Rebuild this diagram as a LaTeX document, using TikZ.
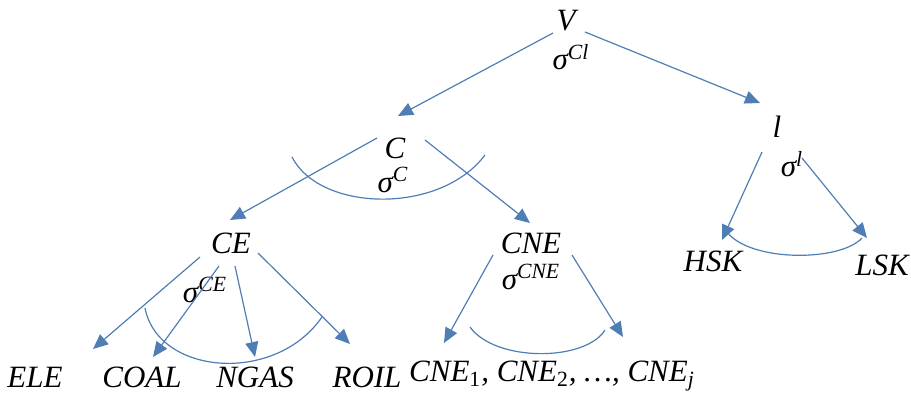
\documentclass[tikz,border=0pt]{standalone}
\usepackage{fontspec}
\setmainfont{Liberation Serif}
\usepackage{tikz}
\usetikzlibrary{arrows.meta}
\definecolor{treeblue}{RGB}{79,126,180}
\tikzset{
lbl/.style={
inner sep=0pt,
font=\fontsize{15.5}{18}\selectfont\itshape
},
arrow/.style={
-{Triangle[length=7.5pt,width=6.5pt]},
draw=treeblue,
line width=0.6pt
},
subarc/.style={
draw=treeblue,
line width=0.6pt
}
}

\begin{document}
\begin{tikzpicture}[x=0.5pt,y=-0.5pt]
\useasboundingbox (0,0) rectangle (911,392);
% top
\node[lbl](V) at (566,21){V};
\node[lbl](sCl) at (571,57){σ\textsuperscript{Cl}};
% second level
\node[lbl](C) at (395,148){C};
\node[lbl](sC) at (393,180){σ\textsuperscript{C}};
\node[lbl](l) at (777,127){l};
\node[lbl](sl) at (792,164){σ\textsuperscript{l}};
% third level
\node[lbl](CE) at (231,243){CE};
\node[lbl](sCE) at (205,290){σ\textsuperscript{CE}};
\node[lbl](CNE) at (531,243){CNE};
\node[lbl](sCNE) at (531,277){σ\textsuperscript{CNE}};
\node[lbl](HSK) at (713,261){HSK};
\node[lbl](LSK) at (882,265){LSK};
% leaves
\node[lbl](ELE) at (35,377){ELE};
\node[lbl](COAL) at (142,377){COAL};
\node[lbl](NGAS) at (255,377){NGAS};
\node[lbl](ROIL) at (367,377){ROIL};
\node[lbl](CNEs) at (552,376){CNE\textsubscript{\upshape 1}, CNE\textsubscript{\upshape 2}, …, CNE\textsubscript{j}};

\foreach \a/\ax/\ay/\b/\bx/\by in {V/-13/12/C/3/-32,V/19/11/l/-17/-24,
C/-18/-10/CE/-1/-23,C/30/-8/CNE/-1/-20,
CE/-31/14/ELE/58/-28,CE/-12/23/COAL/11/-20,CE/4/23/NGAS/0/-20,CE/27/10/ROIL/-17/-33,
CNE/-38/12/CNEs/-108/-33,CNE/41/12/CNEs/71/-39,
l/-15/25/HSK/9/-21,l/25/31/LSK/-15/-27}
\draw[arrow]([shift={(\ax,\ay)}]\a.center)--([shift={(\bx,\by)}]\b.center);

% substitution arcs
\draw[subarc](292,157) .. controls (320,212) and (440,215) .. (485,155);
\draw[subarc](145,308) .. controls (158,375) and (275,385) .. (322,317);
\draw[subarc](470,327) .. controls (495,362) and (585,362) .. (605,330);
\draw[subarc](727,232) .. controls (750,262) and (840,262) .. (862,238);
\end{tikzpicture}
\end{document}
